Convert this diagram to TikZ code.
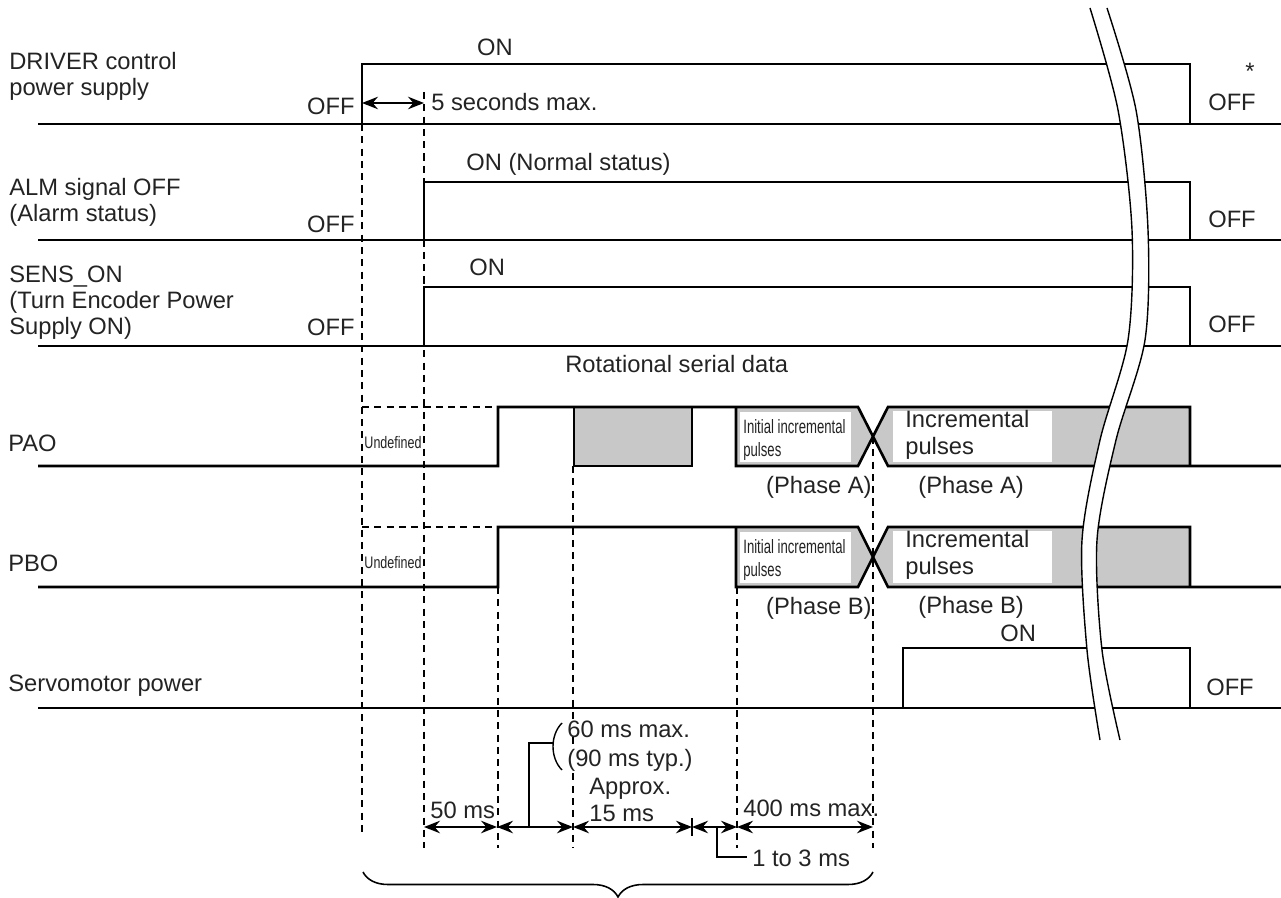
\documentclass[tikz,border=0pt]{standalone}
\usepackage{fontspec}
\setmainfont{Liberation Sans}
\usepackage{tikz}
\usetikzlibrary{arrows.meta,decorations.pathreplacing}
\definecolor{pulsegray}{RGB}{200,200,200}
\definecolor{inkcolor}{RGB}{35,35,35}

\begin{document}
\begin{tikzpicture}[x=0.02cm, y=-0.02cm,
    sig/.style={line width=1.5pt},
    guide/.style={line width=0.7pt, dash pattern=on 4pt off 3pt},
    dim/.style={line width=1.5pt, {Stealth[length=9pt,width=7pt]}-{Stealth[length=9pt,width=7pt]}},
    lbl/.style={font=\fontsize{13.5}{15}\selectfont, inner sep=0pt, text=inkcolor, align=left},
    smalllbl/.style={font=\fontsize{11}{12}\selectfont, inner sep=0pt, text=inkcolor},
    tinylbl/.style={font=\fontsize{9.5}{10}\selectfont, inner sep=0pt, text=inkcolor}]
    \useasboundingbox (0,0) rectangle (1281,898);

    % Timing guides
    \draw[guide] (362,124) -- (362,833);
    \draw[guide] (424,92) -- (424,848);
    \draw[guide] (498,587) -- (498,848);
    \draw[guide] (573,466) -- (573,848);
    \draw[guide] (737,587) -- (737,848);
    \draw[guide] (873,437) -- (873,848);

    % DRIVER control power supply
    \draw[sig] (38,124) -- (1281,124);
    \draw[sig] (362,124) -- (362,64) -- (1190,64) -- (1190,124);
    \node[lbl, anchor=base west] (drvlbl) at (9,96) {DRIVER control\\power supply};
    \node[lbl, anchor=base] (drvon) at (495,56) {ON};
    \node[lbl, anchor=base east] (drvoff) at (355,115) {OFF};
    \node[lbl, anchor=base] (drvoffr) at (1232,111) {OFF};
    \node[lbl, anchor=base] (drvstar) at (1250,80) {*};
    \coordinate (drvup) at (362,103);
    \coordinate (almup) at (424,103);
    \draw[dim] (drvup) -- (almup);
    \node[lbl, anchor=base west] (fivesec) at (431,111) {5 seconds max.};

    % ALM signal
    \draw[sig] (38,240) -- (1281,240);
    \draw[sig] (424,240) -- (424,182) -- (1190,182) -- (1190,240);
    \node[lbl, anchor=base west] (almlbl) at (9,222) {ALM signal OFF\\(Alarm status)};
    \node[lbl, anchor=base west] (almon) at (466,171) {ON (Normal status)};
    \node[lbl, anchor=base east] (almoff) at (355,233) {OFF};
    \node[lbl, anchor=base] (almoffr) at (1232,228) {OFF};

    % SENS_ON
    \draw[sig] (38,346) -- (1281,346);
    \draw[sig] (424,346) -- (424,287) -- (1190,287) -- (1190,346);
    \node[lbl, anchor=base west] (senslbl) at (9,335) {SENS\_ON\\(Turn Encoder Power\\Supply ON)};
    \node[lbl, anchor=base west] (senson) at (469,276) {ON};
    \node[lbl, anchor=base east] (sensoff) at (355,336) {OFF};
    \node[lbl, anchor=base] (sensoffr) at (1232,333) {OFF};
    \node[lbl, anchor=base west] (serial) at (565,373) {Rotational serial data};

    % PAO
    \fill[pulsegray] (574,407) rectangle (692,466);
    \fill[pulsegray] (736,407) -- (858,407) -- (873,436.5) -- (858,466) -- (736,466) -- cycle;
    \fill[pulsegray] (888,407) -- (1190,407) -- (1190,466) -- (888,466) -- (873,436.5) -- cycle;
    \fill[white] (740,412) rectangle (851,462);
    \fill[white] (893,411) rectangle (1052,462);
    \draw[guide] (362,407) -- (498,407);
    \draw[sig] (38,466) -- (498,466) -- (498,407) -- (858,407) -- (888,466) -- (1190,466) -- (1281,466);
    \draw[sig] (574,407) -- (574,466) -- (692,466) -- (692,407);
    \draw[sig] (736,407) -- (736,466) -- (858,466) -- (888,407) -- (1190,407) -- (1190,466);
    \node[lbl, anchor=base west] (paolbl) at (8,451) {PAO};
    \node[tinylbl] (paoundef) at (393,443) {\scalebox{0.75}[1]{Undefined}};
    \node[smalllbl, anchor=base west] (paoinit) at (743,433) {\scalebox{0.68}[1]{Initial incremental}};
    \node[smalllbl, anchor=base west] (paoinitb) at (743,456) {\scalebox{0.68}[1]{pulses}};
    \node[lbl, anchor=base west] (paoinc) at (905,454) {Incremental\\pulses};
    \node[lbl, anchor=base east] (paophl) at (872,493) {(Phase A)};
    \node[lbl, anchor=base west] (paophr) at (918,493) {(Phase A)};

    % PBO
    \fill[pulsegray] (736,527) -- (858,527) -- (873,557) -- (858,587) -- (736,587) -- cycle;
    \fill[pulsegray] (888,527) -- (1190,527) -- (1190,587) -- (888,587) -- (873,557) -- cycle;
    \fill[white] (740,532) rectangle (851,583);
    \fill[white] (893,531) rectangle (1052,583);
    \draw[guide] (362,527) -- (498,527);
    \draw[sig] (38,587) -- (498,587) -- (498,527) -- (858,527) -- (888,587) -- (1190,587) -- (1281,587);
    \draw[sig] (736,527) -- (736,587) -- (858,587) -- (888,527) -- (1190,527) -- (1190,587);
    \node[lbl, anchor=base west] (pbolbl) at (8,571) {PBO};
    \node[tinylbl] (pboundef) at (393,563) {\scalebox{0.75}[1]{Undefined}};
    \node[smalllbl, anchor=base west] (pboinit) at (743,553) {\scalebox{0.68}[1]{Initial incremental}};
    \node[smalllbl, anchor=base west] (pboinitb) at (743,576) {\scalebox{0.68}[1]{pulses}};
    \node[lbl, anchor=base west] (pboinc) at (905,574) {Incremental\\pulses};
    \node[lbl, anchor=base east] (pbophl) at (872,614) {(Phase B)};
    \node[lbl, anchor=base west] (pbophr) at (918,613) {(Phase B)};

    % Servomotor power
    \draw[sig] (38,708) -- (1281,708);
    \draw[sig] (903,708) -- (903,648) -- (1190,648) -- (1190,708);
    \node[lbl, anchor=base west] (servolbl) at (8,691) {Servomotor power};
    \node[lbl, anchor=base west] (servoon) at (1000,641) {ON};
    \node[lbl, anchor=base] (servooff) at (1230,695) {OFF};

    % Time break
    \fill[white] plot[smooth] coordinates {(1090,8) (1118,110) (1132,230) (1128,340) (1100,440) (1082,540) (1087,650) (1100,740)}
        -- plot[smooth] coordinates {(1120,740) (1102,650) (1097,540) (1116,440) (1145,340) (1148,230) (1136,110) (1107,8)} -- cycle;
    \draw[line width=0.8pt] plot[smooth] coordinates {(1090,8) (1118,110) (1132,230) (1128,340) (1100,440) (1082,540) (1087,650) (1100,740)};
    \draw[line width=0.8pt] plot[smooth] coordinates {(1107,8) (1136,110) (1148,230) (1145,340) (1116,440) (1097,540) (1102,650) (1120,740)};

    % Intervals
    \coordinate (d1) at (424,827);
    \coordinate (d2) at (497,827);
    \coordinate (d3) at (573,827);
    \coordinate (d4) at (692,827);
    \coordinate (d5) at (737,827);
    \coordinate (d6) at (873,827);
    \draw[dim] (d1) -- (d2);
    \draw[dim] (d2) -- (d3);
    \draw[dim] (d3) -- (d4);
    \draw[dim] (d4) -- (d5);
    \draw[dim] (d5) -- (d6);
    \draw[line width=1.5pt] (692,818) -- (692,836);
    \node[lbl, anchor=base west] (t50) at (430,818) {50 ms};
    \node[lbl, anchor=base west, fill=white] (t60) at (567,737) {60 ms max.};
    \node[lbl, anchor=base west, fill=white] (t90) at (567,766) {(90 ms typ.)};
    \draw[line width=0.8pt] (529,827) -- (529,743) -- (553,743);
    \draw[line width=0.8pt] (562,723) .. controls (550,735) and (550,758) .. (562,770);
    \node[lbl, anchor=base west] (t15) at (589,821) {Approx.\\15 ms};
    \node[lbl, anchor=base west] (t400) at (743,816) {400 ms max.};
    \draw[line width=0.8pt] (717,827) -- (717,857) -- (747,857);
    \node[lbl, anchor=base west] (t13) at (752,866) {1 to 3 ms};
    \draw[line width=0.9pt, decorate, decoration={brace, mirror, amplitude=0.5cm}] (363,872) -- (873,872);
\end{tikzpicture}
\end{document}
